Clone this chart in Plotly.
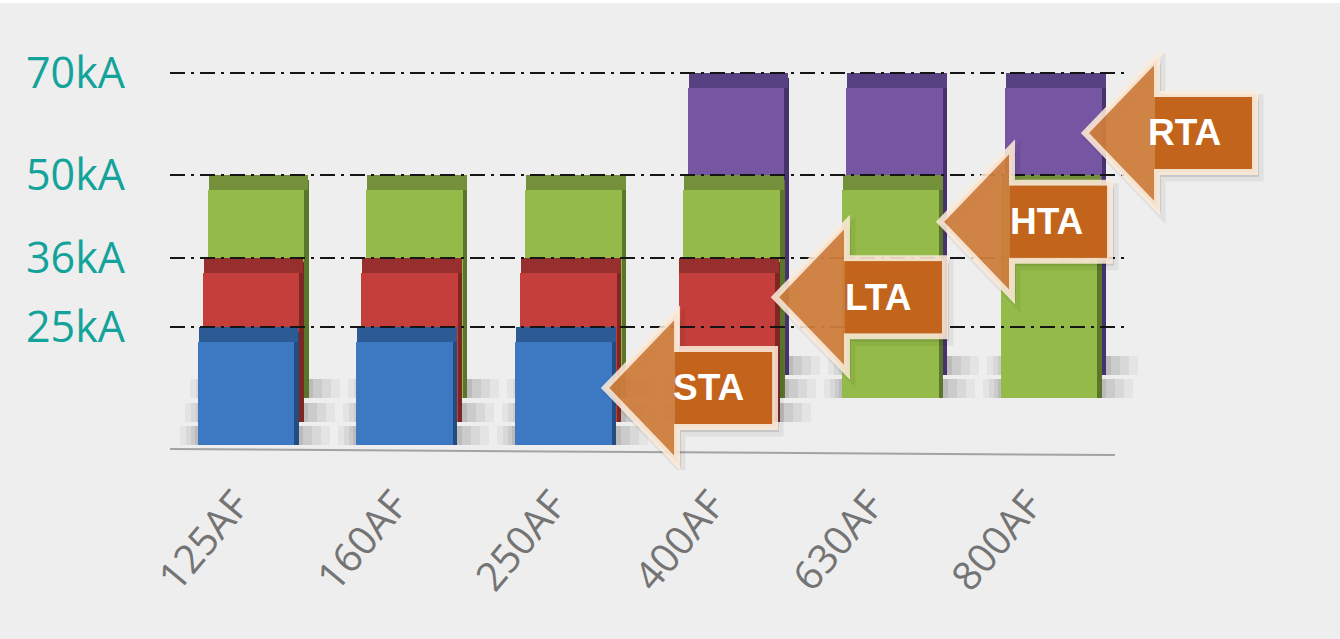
import plotly.graph_objects as go

# ---------------- data ----------------
categories = ["125AF", "160AF", "250AF", "400AF", "630AF", "800AF"]
sta = [25, 25, 25, None, None, None]
lta = [36, 36, 36, 36, None, None]
hta = [50, 50, 50, 50, 50, 50]
rta = [None, None, None, 70, 70, 70]
tick_values = [25, 36, 50, 70]
tick_labels = ["25kA", "36kA", "50kA", "70kA"]
series_names = ["STA", "LTA", "HTA", "RTA"]

# ---------------- layout geometry ----------------
W, H = 1340, 639
ML, MR, MT, MB = 170, 50, 40, 169
PLOT_W = W - ML - MR
PLOT_H = H - MT - MB
PLOT_BOTTOM = H - MB
GRID_RIGHT_PX = 1130
CAT_PX = 158.6          # pixels per category
FIRST_CAT_PX = 246      # pixel of first category centre
x_pos = list(range(len(categories)))
x0 = -(FIRST_CAT_PX - ML) / CAT_PX
x_range = [x0, x0 + PLOT_W / CAT_PX]

W_FRONT = 0.61
W_SIDE = 0.032
TOP_PX = 15
SHADOW_PX = 19

# depth layers, deepest first (drawn first)
layers = [
    dict(name="RTA", vals=rta, tick=3, axis="y", floor=375, scale=4.314, dx=0.090,
         face="#7656a2", top="#584182", side="#46326c"),
    dict(name="HTA", vals=hta, tick=2, axis="y2", floor=398, scale=4.46, dx=0.063,
         face="#94bb49", top="#74903a", side="#5b752b"),
    dict(name="LTA", vals=lta, tick=1, axis="y3", floor=422, scale=4.556, dx=0.032,
         face="#c43f3b", top="#962f2d", side="#7e2624"),
    dict(name="STA", vals=sta, tick=0, axis="y4", floor=445, scale=4.72, dx=0.0,
         face="#3c79c2", top="#2c5a94", side="#234c82"),
]


def yrange(floor, scale):
    r0 = -(PLOT_BOTTOM - floor) / scale
    return [r0, r0 + PLOT_H / scale]


fig = go.Figure()

for L in layers:
    xs = [i for i, v in zip(x_pos, L["vals"]) if v is not None]
    vs = [v for v in L["vals"] if v is not None]
    tk = TOP_PX / L["scale"]
    common = dict(xaxis="x", yaxis=L["axis"], showlegend=False, hoverinfo="skip",
                  marker_line_width=0)
    # soft floor shadow (nested bands, darker towards the bar)
    for extra_l, extra_r, alpha in [(18, 36, 0.04), (12, 27, 0.05), (7, 18, 0.06), (3, 9, 0.08)]:
        fig.add_bar(x=xs, y=[SHADOW_PX / L["scale"]] * len(xs), base=0,
                    width=W_FRONT + (extra_l + extra_r) / CAT_PX,
                    offset=-W_FRONT / 2 + L["dx"] - extra_l / CAT_PX,
                    marker_color=f"rgba(0,0,0,{alpha})", **common)
    # side face
    fig.add_bar(x=xs, y=[v - tk * 0.3 for v in vs], base=0, width=W_SIDE,
                offset=W_FRONT / 2 + L["dx"] - 0.004, marker_color=L["side"], **common)
    # front face
    fig.add_bar(x=xs, y=[v - tk for v in vs], base=0, width=W_FRONT,
                offset=-W_FRONT / 2 + L["dx"], marker_color=L["face"], name=L["name"], **common)
    # top face
    fig.add_bar(x=xs, y=[tk] * len(xs), base=[v - tk for v in vs],
                width=W_FRONT + W_SIDE * 0.6, offset=-W_FRONT / 2 + L["dx"] + 0.006,
                marker_color=L["top"], **common)

shapes = []
# baseline (floor edge)
shapes.append(dict(type="line", xref="x", yref="y4",
                   x0=-0.523, x1=5.479, y0=-0.85, y1=-2.12,
                   line=dict(color="#a3a3a3", width=2), layer="below"))
# dash-dot reference lines at each series level
grid_x1 = (GRID_RIGHT_PX - ML) / PLOT_W
for L in layers:
    shapes.append(dict(type="line", xref="x domain", x0=0, x1=grid_x1,
                       yref=L["axis"], y0=tick_values[L["tick"]], y1=tick_values[L["tick"]],
                       line=dict(color="#151515", width=2, dash="15px,6px,3px,6px")))

# arrow labels (tip anchor in data coordinates, body in pixels)
arrow_anchor = {"STA": (2.264, "y4", 12.1),
                "LTA": (3.335, "y3", 27.4),
                "HTA": (4.376, "y2", 39.5),
                "RTA": (5.290, "y", 56.1)}
text_shift = {"STA": 103, "LTA": 103, "HTA": 106, "RTA": 100}


def arrow_path(dx=0, dy=0):
    pts = [(0, 0), (72, 75), (72, 39), (170, 39), (170, -39), (72, -39), (72, -75)]
    return "M" + " L".join(f"{x + dx},{y + dy}" for x, y in pts) + " Z"


def rect_path(xa, xb, ya, yb):
    return f"M{xa},{ya} L{xb},{ya} L{xb},{yb} L{xa},{yb} Z"


annotations = []
for name in series_names:
    ax, ayref, ay = arrow_anchor[name]
    base = dict(type="path", xref="x", yref=ayref, xsizemode="pixel", ysizemode="pixel",
                xanchor=ax, yanchor=ay, layer="above")
    shapes.append(dict(base, path=arrow_path(4, -5), fillcolor="rgba(0,0,0,0.10)",
                       line=dict(color="rgba(0,0,0,0.06)", width=9)))
    shapes.append(dict(base, path=arrow_path(), fillcolor="#cf7e3d",
                       line=dict(color="rgba(252,235,218,0.92)", width=6), opacity=0.94))
    shapes.append(dict(base, path=rect_path(70, 167, -36, 36), fillcolor="#c2621b",
                       line=dict(width=0), opacity=0.94))
    annotations.append(dict(x=ax, y=ay, xref="x", yref=ayref, xshift=text_shift[name],
                            text=f"<b>{name}</b>", showarrow=False,
                            font=dict(family="Liberation Sans, Arial", size=37, color="white"),
                            xanchor="center", yanchor="middle"))

# thin white band at top of picture
shapes.append(dict(type="rect", xref="paper", yref="paper", x0=-0.2, x1=1.3,
                   y0=1 + (MT - 3) / PLOT_H, y1=1 + MT / PLOT_H + 0.01,
                   fillcolor="white", line=dict(width=0), layer="below"))

yfont = dict(family="Open Sans", size=43, color="#14a39a")
for L in layers:
    ax_cfg = dict(range=yrange(L["floor"], L["scale"]),
                  tickvals=[tick_values[L["tick"]]], ticktext=[tick_labels[L["tick"]]],
                  showgrid=False, zeroline=False, showline=False, ticks="",
                  tickfont=yfont, ticklabelstandoff=44, fixedrange=True)
    if L["axis"] != "y":
        ax_cfg["overlaying"] = "y"
    fig.update_layout({("yaxis" if L["axis"] == "y" else "yaxis" + L["axis"][1:]): ax_cfg})

fig.update_layout(
    width=W, height=H,
    margin=dict(l=ML, r=MR, t=MT, b=MB),
    paper_bgcolor="#eeeeee", plot_bgcolor="rgba(0,0,0,0)",
    barmode="overlay", bargap=0,
    xaxis=dict(range=x_range, tickvals=x_pos, ticktext=categories, tickangle=-50,
               tickfont=dict(family="Open Sans", size=40, color="#747474"),
               showgrid=False, zeroline=False, showline=False, ticks="",
               ticklabelstandoff=2, ticklabelshift=-10, fixedrange=True),
    shapes=shapes, annotations=annotations,
)

fig.write_html("out.html",
               config={"displayModeBar": False},
               post_script="document.body.style.margin='0';"
                           "document.body.style.background='#eeeeee';")
